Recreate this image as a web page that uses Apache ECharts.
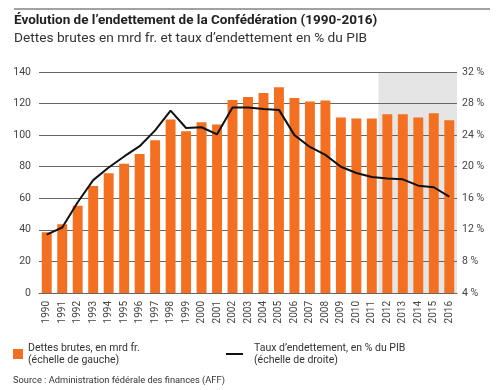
<!DOCTYPE html>
<html><head><meta charset="utf-8">
<script src="https://cdn.jsdelivr.net/npm/echarts@6/dist/echarts.min.js"></script>
<style>html,body{margin:0;padding:0;background:#fff}#c{width:500px;height:390px}</style>
</head><body><div id="c"></div>
<script>
const years = ['1990','1991','1992','1993','1994','1995','1996','1997','1998','1999','2000','2001','2002','2003','2004','2005','2006','2007','2008','2009','2010','2011','2012','2013','2014','2015','2016'];
const debt = [38.5,43.6,55.2,67.8,75.8,81.9,88.0,96.8,109.9,102.5,108.2,106.7,122.3,124.2,126.7,130.3,123.6,121.3,121.9,111.2,110.5,110.5,113.3,113.3,111.2,113.9,109.5];
const ratio = [11.4,12.3,15.5,18.3,19.9,21.3,22.6,24.6,27.1,24.9,25.0,24.1,27.5,27.5,27.3,27.2,24.0,22.5,21.5,20.0,19.2,18.7,18.5,18.4,17.6,17.4,16.2];
const shadedYears = ['2012','2013','2014','2015','2016'];
const leftTicks = {min:0, max:140, interval:20};
const rightTicks = {min:4, max:32, interval:4};
const FONT = "Roboto,'Liberation Sans',sans-serif";
const shade = years.map(y => shadedYears.includes(y) ? leftTicks.max : null);
const chart = echarts.init(document.getElementById('c'));
chart.setOption({
  animation:false,
  textStyle:{fontFamily:FONT},
  graphic:[
    {type:'line', shape:{x1:14,y1:9,x2:490,y2:9}, style:{stroke:'#444',lineWidth:1}},
    {type:'text', left:14, top:14, style:{text:"Évolution de l’endettement de la Confédération (1990-2016)", font:"bold 13.5px "+FONT, fill:'#222'}},
    {type:'text', left:14, top:32, style:{text:"Dettes brutes en mrd fr. et taux d’endettement en % du PIB", font:"13.7px "+FONT, fill:'#333'}},
    {type:'text', left:13, top:376, style:{text:"Source : Administration fédérale des finances (AFF)", font:"9.3px "+FONT, fill:'#333'}}
  ],
  legend:[
    {data:['Dettes brutes, en mrd fr.\n(échelle de gauche)'], left:8, top:337, itemWidth:10, itemHeight:10, itemGap:0, icon:'rect',
     textStyle:{fontSize:10.5, color:'#333', fontFamily:FONT, lineHeight:12}},
    {data:['Taux d’endettement, en % du PIB\n(échelle de droite)'], left:221, top:337, itemWidth:17, itemHeight:2, icon:'rect',
     textStyle:{fontSize:10.5, color:'#333', fontFamily:FONT, lineHeight:12, padding:[0,0,0,6]}}
  ],
  grid:{left:39, right:43, top:72, bottom:97},
  xAxis:[
    {type:'category', data:years, boundaryGap:true,
     axisLine:{lineStyle:{color:'#666'}}, axisTick:{show:false},
     axisLabel:{rotate:90, color:'#444', fontSize:10, margin:8, interval:0}},
    {type:'category', data:years, show:false}
  ],
  yAxis:[
    {type:'value', min:leftTicks.min, max:leftTicks.max, interval:leftTicks.interval,
     axisLine:{show:false}, axisTick:{show:false},
     axisLabel:{color:'#444', fontSize:10.5, margin:8},
     splitLine:{lineStyle:{color:'#666', width:1}}},
    {type:'value', min:rightTicks.min, max:rightTicks.max, interval:rightTicks.interval,
     axisLine:{show:false}, axisTick:{show:false},
     axisLabel:{color:'#444', fontSize:10.5, margin:5, formatter:'{value} %'},
     splitLine:{show:false}}
  ],
  series:[
    {type:'bar', name:'shade', xAxisIndex:1, yAxisIndex:0, data:shade, barWidth:'115%',
     itemStyle:{color:'#e5e5e5'}, z:-1, silent:true, legendHoverLink:false},
    {type:'bar', name:'Dettes brutes, en mrd fr.\n(échelle de gauche)', data:debt, barCategoryGap:'36%',
     itemStyle:{color:'#F37021'}, z:2},
    {type:'line', name:'Taux d’endettement, en % du PIB\n(échelle de droite)', yAxisIndex:1, data:ratio,
     symbol:'none', lineStyle:{color:'#111', width:2}, itemStyle:{color:'#111'}, z:3}
  ]
});
</script></body></html>
